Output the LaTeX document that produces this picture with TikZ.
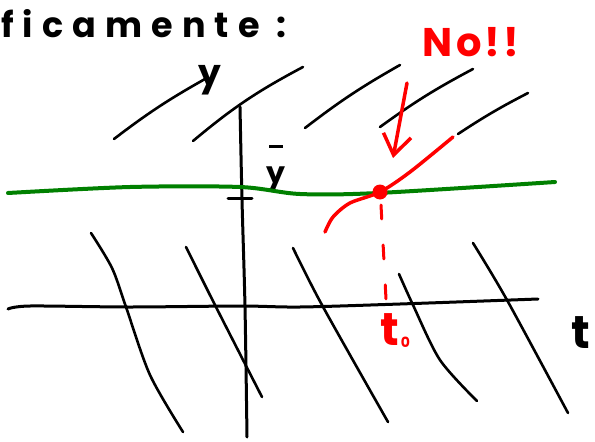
\documentclass[tikz,border=0pt]{standalone}
\usepackage{fontspec}
\newfontfamily\handfont[LetterSpace=8]{Poppins}
\newfontfamily\titlefont[LetterSpace=26]{Poppins}
\usetikzlibrary{arrows.meta}

\begin{document}
\begin{tikzpicture}[
  x=1pt, y=-1pt,
  line cap=round,
  line join=round,
  slope/.style={line width=2.6pt},
  axis/.style={line width=3pt},
  eqline/.style={line width=4pt, green!50!black},
  bad/.style={line width=3.5pt, red},
  hand/.style={inner sep=0pt, font=\handfont\bfseries}
]

\useasboundingbox (0,0) rectangle (595,442);

% Title, from the left edge
\node[hand, anchor=base west, font=\titlefont\bfseries\fontsize{35}{35}\selectfont] (title) at (1,37) {ficamente :};

% --- Slope field: segments above the equilibrium ---
\draw[slope] (114,139) to[bend left=4] (205,79);
\draw[slope] (193,141) to[bend left=6] (303,67);
\draw[slope] (305,128) to[bend left=4] (400,65);
\draw[slope] (380,127) to[bend left=4] (473,69);
\draw[slope] (458,134) to[bend left=3] (528,93);

% --- Slope field: segments below the equilibrium ---
\draw[slope] plot[smooth] coordinates {(91,233) (112,268) (126,307) (150,375) (183,432)};
\draw[slope] plot[smooth] coordinates {(186,247) (216,307) (262,397)};
\draw[slope] plot[smooth] coordinates {(293,248) (322,305) (388,422)};
\draw[slope] plot[smooth] coordinates {(399,274) (413,305) (440,360) (477,401)};
\draw[slope] plot[smooth] coordinates {(473,243) (507,300) (568,413)};

% --- Axes ---
\draw[axis] plot[smooth] coordinates {(240,107) (242,200) (245,307) (247,437)};
\draw[axis] plot[smooth] coordinates {(8,309) (30,306) (130,307) (240,306) (300,307) (400,304) (538,299)};
\node[hand, font=\handfont\bfseries\fontsize{36}{36}\selectfont] (ylab) at (210,80) {y};
\node[hand, font=\handfont\bfseries\fontsize{46}{46}\selectfont] (tlab) at (581,333) {t};

% tick and label of the equilibrium value
\draw[axis] (228,198) -- (252,198);
\node[hand, align=center, font=\handfont\bfseries\fontsize{30}{30}\selectfont] (ybar) at (276,168) {\rule{14pt}{3.5pt}\\[5pt]y};

% --- Equilibrium solution ---
\draw[eqline] plot[smooth] coordinates {(8,193) (130,187) (240,187) (300,194) (378,193) (555,182)};

% --- Crossing solution (not allowed) ---
\coordinate (p0) at (380,192);
\coordinate (t0foot) at (386,299);
\draw[bad] plot[smooth] coordinates {(325,232) (333,217) (350,203) (380,192) (410,172) (453,137)};
\fill[red] (p0) circle[radius=7.5pt];
\draw[bad, line width=3pt, dash pattern=on 14pt off 26pt] (381,205) -- (t0foot);
\node[hand, red, anchor=north west, font=\handfont\bfseries\fontsize{46}{46}\selectfont] (t0) at (380,313) {t\kern2pt\raisebox{-2pt}{\fontsize{14}{14}\selectfont 0}};

% "No!!" with its arrow
\node[hand, red, font=\handfont\bfseries\fontsize{40}{40}\selectfont] (no) at (471,42) {No!!};
\coordinate (arrowtail) at (407,83);
\coordinate (arrowtip) at (393,158);
\draw[bad, -{Straight Barb[length=20pt, width=28pt]}] (arrowtail) -- (arrowtip);

\end{tikzpicture}
\end{document}
